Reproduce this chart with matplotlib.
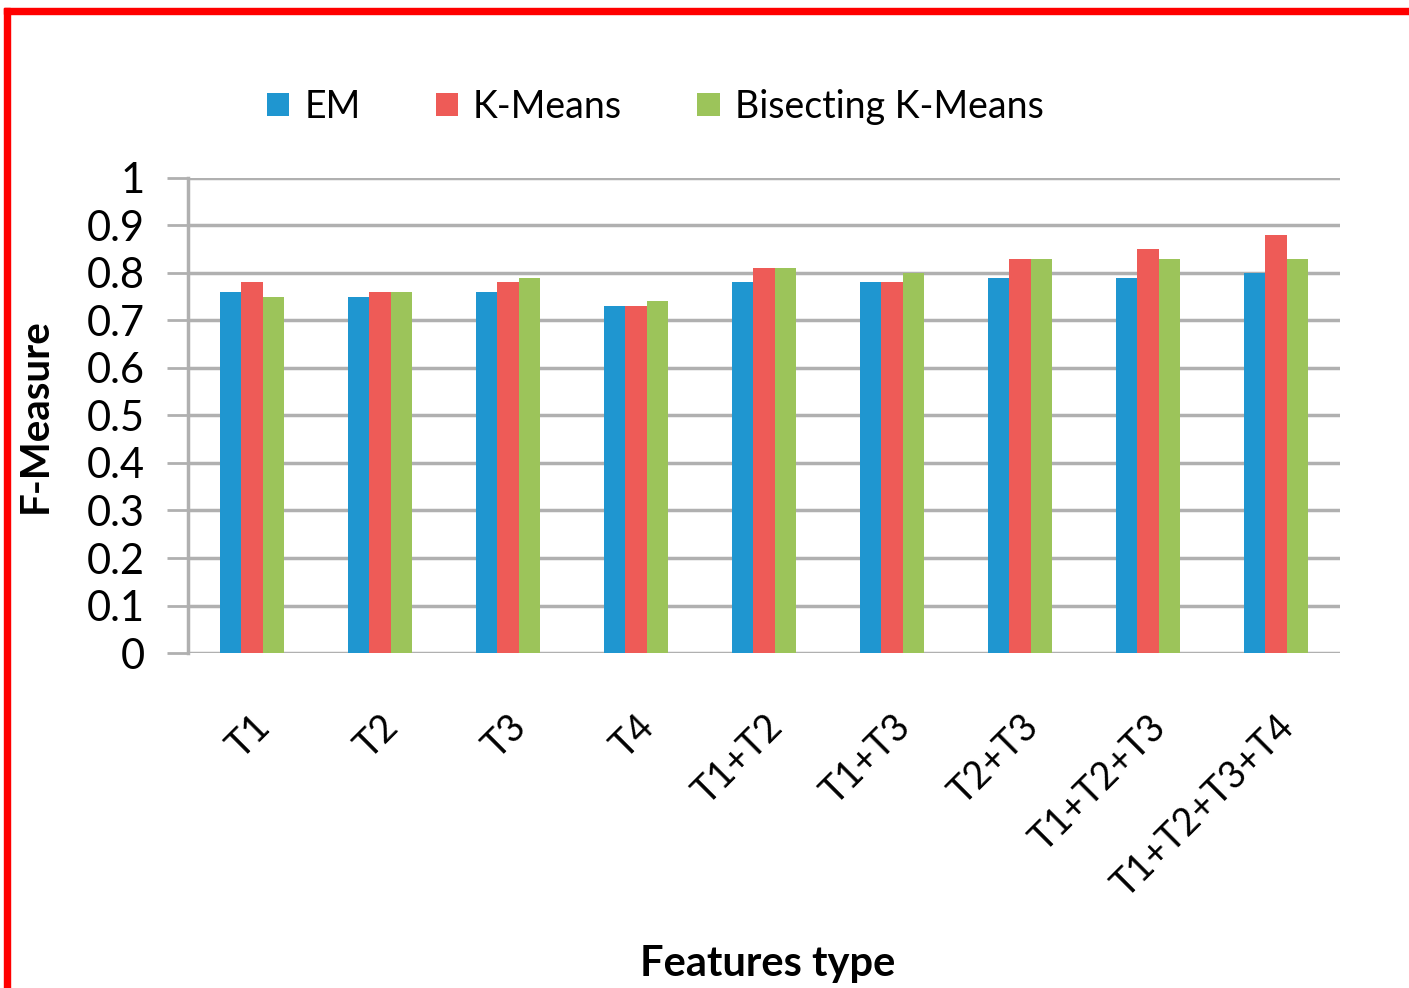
import matplotlib.pyplot as plt
from matplotlib.patches import Rectangle
import numpy as np

plt.rcParams['font.family'] = ['Lato', 'DejaVu Sans']

categories = ["T1", "T2", "T3", "T4", "T1+T2", "T1+T3", "T2+T3", "T1+T2+T3", "T1+T2+T3+T4"]
em = [0.76, 0.75, 0.76, 0.73, 0.78, 0.78, 0.79, 0.79, 0.80]
kmeans = [0.78, 0.76, 0.78, 0.73, 0.81, 0.78, 0.83, 0.85, 0.88]
bisecting = [0.75, 0.76, 0.79, 0.74, 0.81, 0.80, 0.83, 0.83, 0.83]

series = [("EM", em, "#1f96d0"), ("K-Means", kmeans, "#ee5b57"), ("Bisecting K-Means", bisecting, "#9cc45a")]

fig = plt.figure(figsize=(14.09, 9.88), dpi=100)
ax = fig.add_axes([0.1334, 0.339, 0.8176, 0.481])

x = np.arange(len(categories))
w = 0.165
for i, (name, vals, col) in enumerate(series):
    ax.bar(x + (i - 1) * w, vals, w, color=col, label=name, zorder=3)

ax.set_xlim(-0.5, len(categories) - 0.5)
ax.set_ylim(0, 1)
ax.set_yticks(np.arange(0, 1.01, 0.1))
ax.set_yticklabels(["0", "0.1", "0.2", "0.3", "0.4", "0.5", "0.6", "0.7", "0.8", "0.9", "1"])
ax.yaxis.grid(True, color="#b0b0b0", linewidth=2.5, zorder=0)
ax.set_xticks(x)
ax.set_xticklabels(categories, rotation=45, ha="right", rotation_mode="anchor", fontsize=27)
ax.tick_params(axis="x", length=0, pad=40)
ax.tick_params(axis="y", labelsize=30, length=15, width=2, color="#b0b0b0", pad=16)
for s in ["top", "right", "bottom"]:
    ax.spines[s].set_visible(False)
ax.spines["left"].set_color("#b0b0b0")
ax.spines["left"].set_linewidth(2.5)

ax.set_ylabel("F-Measure", fontsize=29, fontweight="bold", labelpad=24)
fig.text(0.545, 0.024, "Features type", fontsize=30, fontweight="bold", ha="center", va="center")

fig.legend(loc="center", bbox_to_anchor=(0.465, 0.892), ncol=3, frameon=False, fontsize=27,
           handlelength=0.6, handleheight=0.6, handletextpad=0.4, columnspacing=2.0)

# red frame along top and left edges
fig.patches.append(Rectangle((0.0028, 0), 0.0043, 0.9919, transform=fig.transFigure, color="red", zorder=10))
fig.patches.append(Rectangle((0.0028, 0.9858), 0.9972, 0.0061, transform=fig.transFigure, color="red", zorder=10))

plt.savefig("out.png", dpi=100)
